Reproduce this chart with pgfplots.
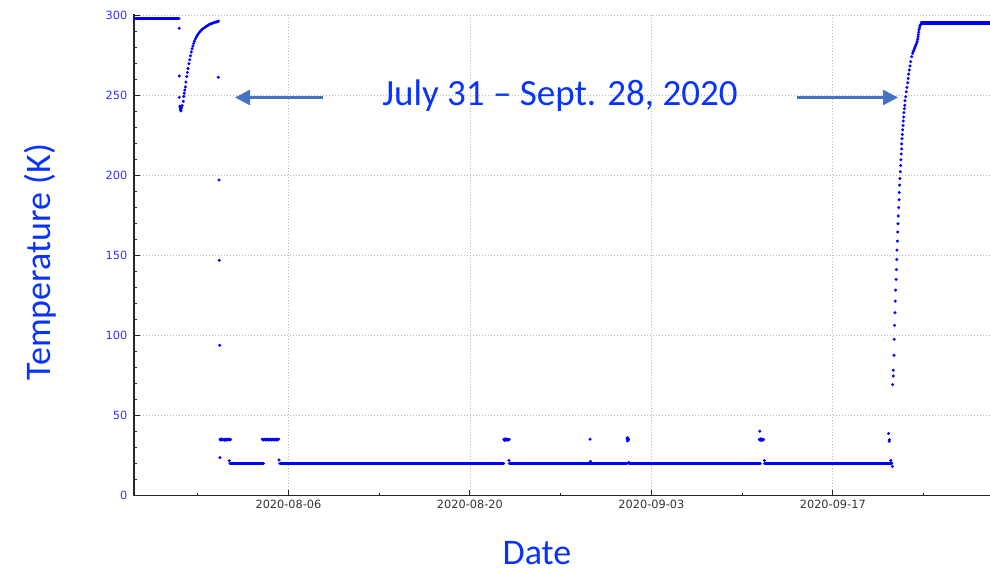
\documentclass[border=0pt]{standalone}
\usepackage{pgfplots}
\pgfplotsset{compat=1.18}
\usepackage{fontspec}
\setmainfont{Carlito}
\newfontfamily\dejavu{DejaVu Sans}
\usetikzlibrary{arrows.meta}
\definecolor{datablue}{RGB}{0,0,255}
\definecolor{labelblue}{RGB}{10,50,255}
\definecolor{tickblue}{RGB}{51,51,255}
\definecolor{tickgray}{RGB}{51,51,51}
\definecolor{arrowblue}{RGB}{68,114,196}
\begin{document}
\begin{tikzpicture}
\begin{axis}[
  at={(100.5pt,57.975pt)}, anchor=south west,
  scale only axis, width=642pt, height=361.2pt,
  xmin=-11.92, xmax=54.13, ymin=0, ymax=301,
  axis x line=bottom, axis y line=left,
  axis line style={-, black!85, line width=0.9pt},
  xtick={0,14,28,42},
  xticklabels={2020-08-06,2020-08-20,2020-09-03,2020-09-17},
  minor xtick={-7,7,21,35,49},
  ytick={0,50,100,150,200,250,300},
  minor y tick num=4,
  tick align=inside,
  major tick length=4.5pt, minor tick length=2.25pt,
  tick style={black!85, line width=0.7pt},
  /pgf/number format/assume math mode=true,
  xticklabel style={font=\dejavu\fontsize{8.5}{10}\selectfont, text=tickgray},
  yticklabel style={font=\dejavu\fontsize{8.5}{10}\selectfont, text=tickblue, xshift=-1.5pt},
  xmajorgrids, ymajorgrids,
  major grid style={black!28, line width=0.6pt, dash pattern=on 0.75pt off 1.5pt},
  clip=true,
]
% dense runs (many overlapping samples)
\addplot[datablue, line width=2.6pt, line cap=round] coordinates {(-12.5,298.4) (-8.45,298.4)};
\addplot[datablue, line width=2.6pt, line cap=round] coordinates {(-4.51,20) (-1.94,20)};
\addplot[datablue, line width=2.6pt, line cap=round] coordinates {(-0.66,20) (16.6,20)};
\addplot[datablue, line width=2.6pt, line cap=round] coordinates {(17.05,20) (26.1,20)};
\addplot[datablue, line width=2.6pt, line cap=round] coordinates {(26.28,20) (36.4,20)};
\addplot[datablue, line width=2.6pt, line cap=round] coordinates {(36.75,20) (46.47,20)};
\addplot[datablue, line width=2.6pt, line cap=round] coordinates {(48.86,295.5) (55,295.5)};
% individual samples
\addplot[datablue, only marks, mark=*, mark size=1.05pt, mark options={fill=datablue, draw=datablue, line width=0.2pt}] coordinates {
(-8.43,292.1) (-8.43,262.3) (-8.42,249.0) (-8.38,243.5) (-8.36,242.3) (-8.33,241.5) (-8.30,240.5)
(-8.30,241.0) (-8.25,242.5) (-8.20,243.8) (-8.12,246.5) (-8.08,249.5) (-8.04,251.5) (-8.00,253.5)
(-7.96,255.5) (-7.91,258.5) (-7.85,262.0) (-7.80,264.5) (-7.75,267.0) (-7.68,270.0) (-7.62,272.5)
(-7.56,275.0) (-7.50,277.3) (-7.44,279.3) (-7.38,281.0) (-7.32,282.6) (-7.26,284.0) (-7.18,285.5)
(-7.10,286.8) (-7.02,287.9) (-6.94,288.9) (-6.85,289.8) (-6.76,290.6) (-6.67,291.3) (-6.57,292.0)
(-6.47,292.6) (-6.37,293.2) (-6.27,293.7) (-6.17,294.2) (-6.07,294.6) (-5.97,295.0) (-5.87,295.3)
(-5.77,295.6) (-5.67,295.9) (-5.57,296.1) (-5.47,296.3) (-5.40,296.5)
(-5.42,261.5) (-5.36,197.3) (-5.34,147.1) (-5.31,94.0) (-5.29,23.8)
(-5.28,35.3) (-5.23,34.8) (-5.18,35.4) (-5.13,34.9) (-5.08,35.2) (-4.98,35.0) (-4.92,34.7)
(-4.87,35.3) (-4.82,35.1) (-4.77,34.8) (-4.72,35.2) (-4.62,35.0) (-4.57,35.3) (-4.52,34.9) (-4.47,35.1)
(-4.57,21.8)
(-2.02,35.3) (-1.95,34.8) (-1.88,35.1) (-1.81,35.3) (-1.74,34.8) (-1.67,35.1) (-1.60,35.3)
(-1.53,34.8) (-1.46,35.1) (-1.39,35.3) (-1.32,34.8) (-1.25,35.1) (-1.18,35.3) (-1.11,34.8)
(-1.04,35.1) (-0.97,35.3) (-0.90,34.8) (-0.83,35.1) (-0.76,35.3)
(-0.73,22.3)
(16.62,35.2) (16.67,34.6) (16.72,35.5) (16.77,34.8) (16.82,35.3) (16.87,34.7) (16.92,35.1)
(16.97,34.9) (17.02,35.2) (17.02,22.0)
(23.27,35.3) (23.30,21.4)
(26.12,35.5) (26.15,34.3) (26.18,35.9) (26.21,34.8) (26.24,35.2) (26.16,36.2) (26.25,20.8)
(36.37,40.3) (36.34,35.2) (36.40,34.6) (36.45,35.5) (36.50,34.8) (36.55,35.3) (36.60,34.7) (36.65,35.1)
(36.72,22.0)
(46.30,38.8) (46.37,35.0) (46.35,34.0) (46.47,22.0) (46.55,20.3) (46.60,18.3)
(46.62,69.4) (46.67,74.8) (46.67,78.4) (46.72,87.8) (46.74,97.7) (46.77,106.5) (46.80,114.3)
(46.82,121.6) (46.85,128.5) (46.88,135.2) (46.90,141.3) (46.93,147.6) (46.95,153.5) (46.98,159.1)
(47.01,164.8) (47.03,170.0) (47.05,174.8) (47.08,180.1) (47.11,184.9) (47.13,189.5) (47.16,194.1)
(47.18,198.3) (47.21,202.5) (47.24,206.3) (47.26,209.9) (47.28,213.6) (47.31,216.8) (47.31,219.9)
(47.34,223.1) (47.36,225.8) (47.39,228.7) (47.42,231.4) (47.44,234.2) (47.47,236.7) (47.49,239.4)
(47.52,241.9) (47.55,244.0) (47.57,246.8) (47.63,249.3) (47.67,252.4) (47.72,255.2) (47.78,258.1)
(47.82,260.8) (47.85,263.5) (47.90,266.1) (47.96,268.6) (48.01,271.3) (48.09,274.4) (48.16,276.5)
(48.21,277.6) (48.26,278.6) (48.31,279.7) (48.36,280.7) (48.41,281.8) (48.47,282.8) (48.51,284.0)
(48.55,285.3) (48.58,286.7) (48.60,288.1) (48.63,289.6) (48.65,291.2) (48.69,292.5) (48.73,293.7)
(48.79,294.6) (48.86,295.4)
};
\end{axis}
\draw[-{Triangle[length=11.25pt,width=11.25pt]}, line width=1.9pt, arrowblue] (242.25pt,356.625pt) -- (176.25pt,356.625pt);
\draw[-{Triangle[length=11.25pt,width=11.25pt]}, line width=1.9pt, arrowblue] (597.75pt,356.625pt) -- (673.5pt,356.625pt);
\node[text=labelblue, font=\fontsize{27.75}{32}\selectfont, inner sep=0pt] at (420pt,357.75pt) {July 31 – Sept. 28, 2020};
\node[text=labelblue, font=\fontsize{27}{32}\selectfont, inner sep=0pt] at (402.75pt,15pt) {Date};
\node[text=labelblue, font=\fontsize{27}{32}\selectfont, inner sep=0pt, rotate=90] at (30pt,233.25pt) {Temperature (K)};
\pgfresetboundingbox
\path (0pt,0pt) rectangle (742.5pt,429.75pt);
\end{tikzpicture}
\end{document}
